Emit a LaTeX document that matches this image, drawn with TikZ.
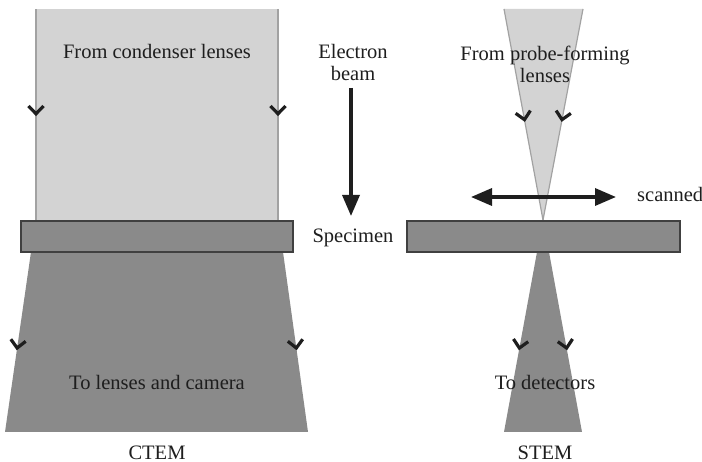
\documentclass[tikz,border=0pt]{standalone}
\usepackage{fontspec}
\setmainfont{Liberation Serif}
\usetikzlibrary{arrows.meta,decorations.markings}
\definecolor{beamlight}{HTML}{D3D3D3}
\definecolor{beamedge}{HTML}{A2A2A2}
\definecolor{beamdark}{HTML}{8A8A8A}
\definecolor{ink}{HTML}{1E1E1E}
\tikzset{
  lbl/.style={font=\fontsize{20.5}{22}\selectfont, text=ink, inner sep=0pt, anchor=base},
  lightbeam/.style={fill=beamlight, draw=none},
  darkbeam/.style={fill=beamdark, draw=none},
  edgeline/.style={draw=beamedge, line width=1.2pt},
  specbox/.style={fill=beamdark, draw=ink!85, line width=1.2pt},
  bigarrow/.style={draw=ink, line width=3.4pt, -{Triangle[length=21pt,width=17pt]}},
  dblarrow/.style={draw=ink, line width=3.4pt, {Triangle[length=21pt,width=17pt]}-{Triangle[length=21pt,width=17pt]}},
  chev/.style={postaction={decorate}, decoration={markings,
     mark=at position #1 with {\draw[ink,line width=3.2pt,line join=miter,line cap=butt]
        (-9pt,7.5pt) -- (-1.2pt,0pt) -- (-9pt,-7.5pt);}}},
}
\begin{document}
\begin{tikzpicture}[x=1pt,y=-1pt]
\useasboundingbox (0,0) rectangle (702,462);
% ---- CTEM ----
\fill[lightbeam] (36,9) rectangle (278,221);
\draw[edgeline,chev=0.5] (36,9) -- (36,221);
\draw[edgeline,chev=0.5] (278,9) -- (278,221);
\fill[darkbeam] (31,252) -- (283,252) -- (308,432) -- (5,432) -- cycle;
\path[chev=0.54] (31,252) -- (5,432);
\path[chev=0.54] (283,252) -- (308,432);
\draw[specbox] (21,221) rectangle (293,252);
% ---- STEM ----
\fill[lightbeam] (504,9) -- (583,9) -- (543,220) -- cycle;
\draw[edgeline,chev=0.53] (504,9) -- (543,220);
\draw[edgeline,chev=0.53] (583,9) -- (543,220);
\fill[darkbeam] (537,252) -- (549,252) -- (582,432) -- (504,432) -- cycle;
\path[chev=0.54] (537,252) -- (504,432);
\path[chev=0.54] (549,252) -- (582,432);
\draw[specbox] (407,221) rectangle (680,252);
% ---- arrows ----
\coordinate (ebTop) at (351,88);
\coordinate (ebTip) at (351,216);
\draw[bigarrow] (ebTop) -- (ebTip);
\coordinate (scL) at (471,197);
\coordinate (scR) at (616,197);
\draw[dblarrow] (scL) -- (scR);
% ---- labels ----
\node[lbl] (t1) at (157,59) {From condenser lenses};
\node[lbl] (t2) at (353,59) {Electron};
\node[lbl] (t3) at (353,81) {beam};
\node[lbl] (t4) at (545,61) {From probe-forming};
\node[lbl] (t5) at (545,83) {lenses};
\node[lbl,anchor=base west] (t6) at (637,202) {scanned};
\node[lbl] (t7) at (353,243) {Specimen};
\node[lbl] (t8) at (157,390) {To lenses and camera};
\node[lbl] (t9) at (545,390) {To detectors};
\node[lbl] (t10) at (157,459) {CTEM};
\node[lbl] (t11) at (545,459) {STEM};
\end{tikzpicture}
\end{document}
